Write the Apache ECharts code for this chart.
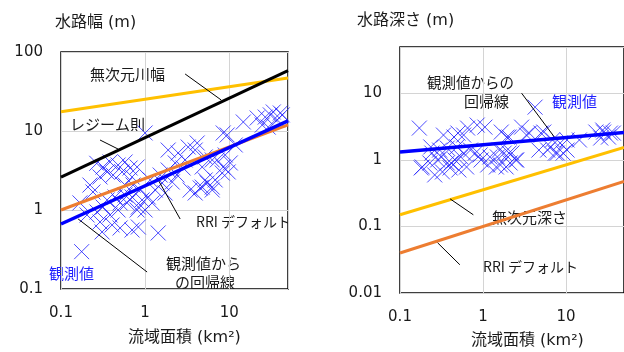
<!DOCTYPE html>
<html>
<head>
<meta charset="utf-8">
<script src="https://cdn.jsdelivr.net/npm/echarts@6/dist/echarts.min.js"></script>
<style>
  html, body { margin: 0; padding: 0; background: #fff; }
  #chart { width: 624px; height: 352px; }
</style>
</head>
<body>
<div id="chart"></div>
<script>
// ---- Channel width panel: observations (catchment area km², width m) ----
const widthArea = [0.176, 0.266, 0.316, 0.383, 0.477, 0.578, 0.663, 0.532, 0.416, 0.353, 0.291, 0.803,
  0.240, 0.168, 0.204, 0.268, 0.316, 0.383, 0.477, 0.611, 0.700, 0.439, 0.353, 0.291, 0.405, 0.504,
  0.700, 0.308, 0.803, 0.719, 0.578, 0.700, 1.0, 1.88, 2.47, 3.25, 4.16, 5.18, 2.99, 2.28, 1.88, 2.40,
  4.77, 6.28, 1.59, 2.10, 1.32, 1.09, 0.92, 1.73, 1.21, 0.83, 1.0, 4.77, 6.28, 3.94, 5.18, 0.83, 1.43,
  14.7, 21.5, 26.8, 33.4, 37.3, 24.7, 29.1, 42.7, 9.46, 11.8, 8.96, 7.20, 10.3, 8.26, 9.73, 6.81, 6.28,
  8.48, 5.47, 4.52, 3.43, 30.8, 40.5, 8.48, 0.504, 0.578, 0.872, 1.15, 1.51, 0.221, 2.83, 3.94];
const widthObs = [0.297, 3.90, 3.50, 4.05, 3.71, 4.05, 3.40, 3.03, 2.77, 3.03, 2.62, 3.50,
  1.69, 1.23, 0.865, 0.943, 1.09, 0.865, 1.0, 1.23, 1.46, 1.46, 1.34, 0.705, 0.646, 0.592,
  0.558, 0.527, 1.0, 2.07, 2.07, 2.62, 9.44, 5.74, 5.27, 6.27, 7.05, 4.69, 4.30, 3.94, 3.21, 2.77,
  3.50, 4.30, 2.20, 2.26, 1.79, 1.46, 1.34, 1.64, 1.23, 1.09, 1.0, 1.95, 1.79, 1.64, 2.40, 0.609, 0.512,
  13.0, 14.6, 15.0, 17.4, 13.8, 11.9, 11.2, 16.0, 8.90, 6.65, 4.97, 4.30, 3.94, 2.94, 3.03, 2.40, 1.95,
  3.50, 2.20, 1.90, 1.79, 16.0, 16.9, 9.44, 1.23, 1.55, 1.79, 2.40, 2.77, 2.07, 3.40, 5.74];

// Width relations (straight in log-log, given by their end points)
const widthDimensionless = [[0.1, 17.5], [50, 47]];
const widthRegime = [[0.1, 2.6], [50, 58]];
const widthRRI = [[0.1, 1.0], [50, 11.95]];
const widthRegression = [[0.1, 0.665], [50, 13.4]];

// ---- Channel depth panel: observations (catchment area km², depth m) ----
const depthArea = [0.171, 0.334, 0.499, 0.652, 0.851, 1.055, 1.66, 2.06, 2.92, 4.24, 3.34, 4.99, 6.87,
  8.51, 14.5, 22.9, 27.7, 34.3, 0.185, 0.242, 0.316, 0.413, 0.540, 0.706, 0.923, 1.21, 1.58, 2.06, 2.48,
  1.90, 1.45, 6.01, 7.86, 10.3, 0.448, 0.585, 0.235, 0.300, 0.371, 0.485, 0.585, 0.180, 0.229, 0.262,
  0.325, 0.402, 0.512, 0.634, 0.284, 0.371, 0.460, 1.95, 3.61, 0.807, 0.948, 1.14, 1.49, 1.80, 2.23,
  2.55, 2.12, 1.62, 4.72, 5.40, 6.51, 10.3, 7.45, 9.23, 28.4, 32.5, 26.2, 37.2];
const depthObs = [3.02, 2.37, 2.54, 3.02, 3.35, 3.12, 2.63, 2.21, 3.12, 6.23, 2.37, 2.54, 2.0,
  1.80, 2.0, 2.63, 2.82, 2.54, 0.785, 1.27, 1.11, 0.902, 1.11, 1.41, 1.19, 1.11, 1.41, 1.27, 1.0,
  0.785, 0.785, 1.41, 1.27, 1.41, 2.21, 2.37, 1.57, 1.41, 1.51, 1.57, 1.27, 0.759, 0.902, 0.596,
  0.661, 0.759, 0.708, 0.785, 1.0, 0.902, 1.0, 2.21, 2.54, 1.27, 1.0, 0.841, 1.11, 1.27, 1.27,
  1.0, 0.902, 0.841, 1.41, 2.63, 1.57, 2.0, 1.27, 1.27, 2.63, 2.21, 2.14, 2.54];

const depthDimensionless = [[0.1, 0.15], [50, 1.55]];
const depthRRI = [[0.1, 0.04], [50, 0.478]];
const depthRegression = [[0.1, 1.32], [50, 2.6]];

// Leader lines for the annotations, in data space
const leadersWidth = [
  [[2.99, 52.7], [8.03, 24.7]],
  [[0.291, 7.69], [0.477, 5.91]],
  [[1.39, 2.54], [2.61, 0.769]],
  [[0.160, 0.769], [1.056, 0.164]]
];
const leadersDepth = [
  [[2.92, 10.1], [7.25, 2.21]],
  [[0.402, 0.260], [0.765, 0.150]],
  [[0.284, 0.0569], [0.526, 0.0266]]
];

const FONT = '"Noto Sans CJK JP", "Noto Sans", sans-serif';
const FONT_WIDE = '"DejaVu Sans", "Noto Sans CJK JP", sans-serif';
const TEXT = '#1a1a1a';
const OBS = '#1f1fff';

function zip(xs, ys) { return xs.map((x, i) => [x, ys[i]]); }
function decadeLabel(v) {
  const e = Math.log10(v);
  const r = Math.round(e);
  if (Math.abs(e - r) > 1e-6) return '';
  return String(Number(Math.pow(10, r).toPrecision(1)));
}

function logAxis(gridIndex, min, max, isX) {
  return {
    type: 'log', logBase: 10, gridIndex, min, max,
    axisLine: { show: false },
    axisTick: { show: false },
    splitLine: { show: true, lineStyle: { color: '#d4d4d4', width: 1 } },
    axisLabel: {
      formatter: decadeLabel, color: TEXT, fontSize: 15, fontFamily: FONT_WIDE,
      margin: isX ? 17 : 18, showMaxLabel: !isX ? (max === 100) : false
    }
  };
}

const crossSymbol = 'path://M0,0L10,10M10,0L0,10';

function scatter(idx, data) {
  return {
    type: 'scatter', xAxisIndex: idx, yAxisIndex: idx, data,
    symbol: crossSymbol, symbolSize: 15, silent: true,
    itemStyle: { color: 'none', borderColor: OBS, borderWidth: 1 }, z: 3
  };
}
function relLine(idx, data, color, width, z) {
  return {
    type: 'line', xAxisIndex: idx, yAxisIndex: idx, data, showSymbol: false, silent: true,
    lineStyle: { color, width }, z: z || 4
  };
}
function leader(idx, data) {
  return {
    type: 'line', xAxisIndex: idx, yAxisIndex: idx, data, showSymbol: false, silent: true,
    lineStyle: { color: '#000', width: 1 }, z: 5
  };
}

function txt(x, y, s, opts) {
  const o = opts || {};
  return {
    type: 'text', x, y, silent: true,
    style: {
      text: s, fill: o.color || TEXT,
      font: (o.size || 15) + 'px ' + (o.family || FONT), verticalAlign: 'middle'
    }
  };
}

const chart = echarts.init(document.getElementById('chart'), null, { renderer: 'canvas' });

const series = [
  scatter(0, zip(widthArea, widthObs)),
  relLine(0, widthDimensionless, '#ffc000', 3),
  relLine(0, widthRegime, '#000000', 3),
  relLine(0, widthRRI, '#ed7d31', 3),
  relLine(0, widthRegression, '#0000ff', 3.5, 6),
  scatter(1, zip(depthArea, depthObs)),
  relLine(1, depthDimensionless, '#ffc000', 3),
  relLine(1, depthRRI, '#ed7d31', 3),
  relLine(1, depthRegression, '#0000ff', 3.5, 6)
];
leadersWidth.forEach(d => series.push(leader(0, d)));
leadersDepth.forEach(d => series.push(leader(1, d)));

const headings = { size: 16, family: FONT_WIDE };

chart.setOption({
  animation: false,
  backgroundColor: '#fff',
  grid: [
    { left: 61, top: 52, width: 227, height: 237, show: true, borderColor: '#000', borderWidth: 1.5, backgroundColor: 'transparent' },
    { left: 400, top: 47, width: 231, height: 246, show: true, borderColor: '#000', borderWidth: 1.5, backgroundColor: 'transparent' }
  ],
  xAxis: [logAxis(0, 0.1, 50, true), logAxis(1, 0.1, 50, true)],
  yAxis: [logAxis(0, 0.1, 100, false), logAxis(1, 0.01, 50, false)],
  series,
  graphic: [
    txt(55, 23, '水路幅 (m)', headings),
    txt(357, 21, '水路深さ (m)', headings),
    txt(128, 338, '流域面積 (km²)', headings),
    txt(471, 341, '流域面積 (km²)', headings),
    txt(90, 74, '無次元川幅'),
    txt(70, 124, 'レジーム則'),
    txt(196, 222, 'RRI デフォルト', { size: 14 }),
    txt(166, 263, '観測値から'),
    txt(175, 282, 'の回帰線'),
    txt(49, 273, '観測値', { color: OBS }),
    txt(427, 82, '観測値からの', { size: 14.5 }),
    txt(464, 101, '回帰線'),
    txt(552, 101, '観測値', { color: OBS }),
    txt(492, 217, '無次元深さ'),
    txt(483, 267, 'RRI デフォルト', { size: 14 })
  ]
});
</script>
</body>
</html>
